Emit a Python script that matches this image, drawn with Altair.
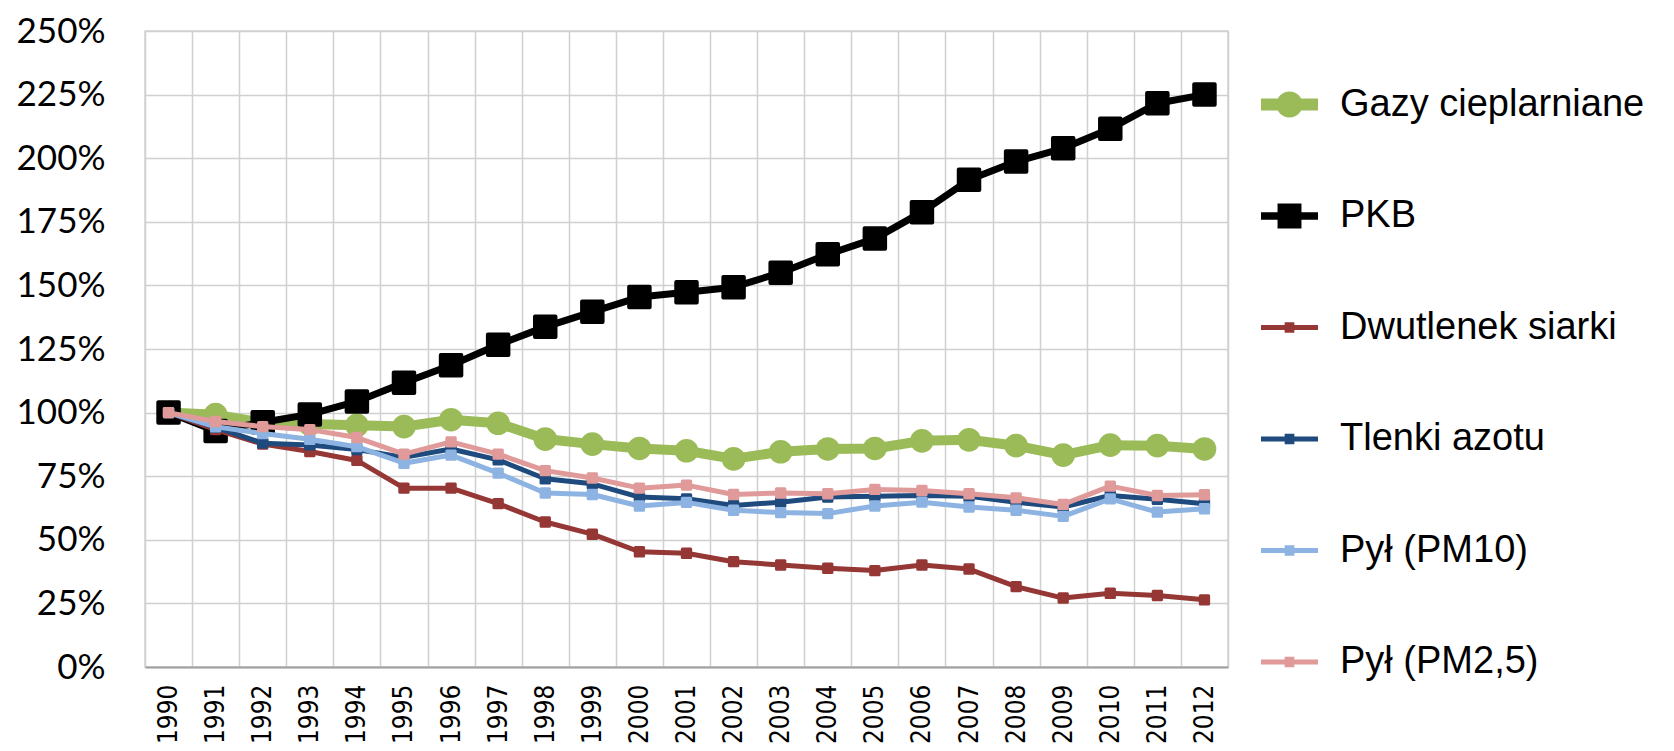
import altair as alt
import pandas as pd

years = list(range(1990, 2013))

series_names = ["Gazy cieplarniane", "PKB", "Dwutlenek siarki", "Tlenki azotu", "Pył (PM10)", "Pył (PM2,5)"]

gazy = [100, 99.2, 96.0, 95.5, 95.0, 94.5, 97.2, 95.8, 89.6, 87.6, 85.9, 85.0, 81.8, 84.6, 85.7, 85.9, 88.9, 89.3, 87.0, 83.3, 87.2, 87.0, 85.7]
pkb = [100, 92.8, 96.2, 99.3, 104.4, 111.7, 118.6, 126.7, 133.7, 139.6, 145.4, 147.3, 149.3, 155.0, 162.2, 168.4, 178.8, 191.5, 198.7, 203.9, 211.6, 221.6, 225.0]
so2 = [100, 93.3, 87.6, 84.7, 81.2, 70.3, 70.3, 64.2, 57.0, 52.2, 45.3, 44.7, 41.4, 40.1, 38.8, 37.9, 40.1, 38.5, 31.6, 27.1, 29.0, 28.1, 26.4]
nox = [100, 94.2, 88.0, 87.3, 85.5, 82.4, 85.7, 81.4, 74.0, 72.0, 66.8, 66.1, 63.5, 64.8, 66.8, 67.1, 67.4, 67.1, 64.8, 62.9, 67.4, 65.9, 64.2]
pm10 = [100, 94.4, 91.8, 89.5, 86.6, 80.1, 83.3, 76.2, 68.4, 67.8, 63.3, 64.7, 61.6, 60.7, 60.3, 63.3, 64.8, 62.9, 61.6, 59.2, 66.1, 60.9, 62.2]
pm25 = [100, 96.5, 94.5, 93.3, 90.2, 83.7, 88.5, 83.7, 77.2, 74.3, 70.3, 71.5, 67.8, 68.4, 68.1, 69.8, 69.4, 68.1, 66.5, 63.9, 71.1, 67.4, 67.7]

series_values = [gazy, pkb, so2, nox, pm10, pm25]
colors = ["#9bbb59", "#000000", "#953735", "#1f4a7e", "#8db3e2", "#e09a99"]
line_widths = [10, 7, 5, 5, 5, 5]
marker_shapes = ["circle", "square", "square", "square", "square", "square"]
marker_sizes = [560, 420, 70, 70, 70, 70]
marker_strokes = [0, 4, 3, 3, 3, 3]

legend_paths = [
    "M-1,-0.21L1,-0.21L1,0.21L-1,0.21Z M-0.46,0A0.46,0.46 0 1,1 0.46,0A0.46,0.46 0 1,1 -0.46,0Z",
    "M-1,-0.13L1,-0.13L1,0.13L-1,0.13Z M-0.42,-0.44L0.42,-0.44L0.42,0.44L-0.42,0.44Z",
    "M-1,-0.09L1,-0.09L1,0.09L-1,0.09Z M-0.17,-0.18L0.17,-0.18L0.17,0.18L-0.17,0.18Z",
    "M-1,-0.09L1,-0.09L1,0.09L-1,0.09Z M-0.17,-0.18L0.17,-0.18L0.17,0.18L-0.17,0.18Z",
    "M-1,-0.09L1,-0.09L1,0.09L-1,0.09Z M-0.17,-0.18L0.17,-0.18L0.17,0.18L-0.17,0.18Z",
    "M-1,-0.09L1,-0.09L1,0.09L-1,0.09Z M-0.17,-0.18L0.17,-0.18L0.17,0.18L-0.17,0.18Z",
]

y_ticks = [0, 0.25, 0.5, 0.75, 1.0, 1.25, 1.5, 1.75, 2.0, 2.25, 2.5]

rows = []
for name, vals in zip(series_names, series_values):
    for yr, v in zip(years, vals):
        rows.append({"rok": yr, "seria": name, "wartosc": v / 100.0})
df = pd.DataFrame(rows)

x_enc = alt.X(
    "rok:O",
    scale=alt.Scale(type="band", paddingInner=0, paddingOuter=0),
    axis=alt.Axis(
        title=None, tickBand="extent", grid=True, ticks=False, labelAngle=-90,
        labelFont="DejaVu Sans Condensed, Liberation Sans, Arial", labelFontSize=26,
        labelPadding=17, labelColor="#000000", domainColor="#a0a0a0", domainWidth=2,
    ),
)
y_enc = alt.Y(
    "wartosc:Q",
    scale=alt.Scale(domain=[0, 2.5], nice=False, zero=True),
    axis=alt.Axis(
        title=None, values=y_ticks, format=".0%", grid=True, ticks=False, domain=False,
        labelPadding=40, labelFont="Lato", labelFontSize=35, labelColor="#000000",
    ),
)

layers = []
for i, name in enumerate(series_names):
    base = alt.Chart(df).transform_filter(alt.datum.seria == name)
    line = base.mark_line(
        color=colors[i], strokeWidth=line_widths[i], strokeJoin="round", strokeCap="round"
    ).encode(x=x_enc, y=y_enc)
    pt_kwargs = dict(filled=True, shape=marker_shapes[i], size=marker_sizes[i],
                     fill=colors[i], opacity=1)
    if marker_strokes[i] > 0:
        pt_kwargs.update(stroke=colors[i], strokeWidth=marker_strokes[i], strokeJoin="round")
    pts = base.mark_point(**pt_kwargs).encode(x=x_enc, y=y_enc)
    layers += [line, pts]

legend_def = alt.Legend(
    title=None, orient="none", legendX=1116, legendY=45, padding=0,
    symbolSize=3249, symbolStrokeWidth=0, rowPadding=63.5, labelOffset=22,
    labelFont="Liberation Sans, Arial", labelFontSize=38, labelColor="#000000",
    labelLimit=500, direction="vertical",
)
legend_layer = alt.Chart(df).transform_filter("false").mark_point(filled=True, opacity=1).encode(
    color=alt.Color("seria:N", scale=alt.Scale(domain=series_names, range=colors), legend=legend_def),
    shape=alt.Shape("seria:N", scale=alt.Scale(domain=series_names, range=legend_paths), legend=legend_def),
)
layers.append(legend_layer)

chart = alt.layer(*layers).properties(
    width=1083,
    height=636,
    padding={"left": 137, "top": 23, "right": 430, "bottom": 76},
    autosize=alt.AutoSizeParams(type="none"),
).configure_view(
    fill="#f2f2f2", stroke="#d4d4d4", strokeWidth=1.5
).configure_axis(
    gridColor="#d0d0d0", gridWidth=1.5
)

chart.save("out.html", embed_options={"renderer": "svg", "actions": False})
